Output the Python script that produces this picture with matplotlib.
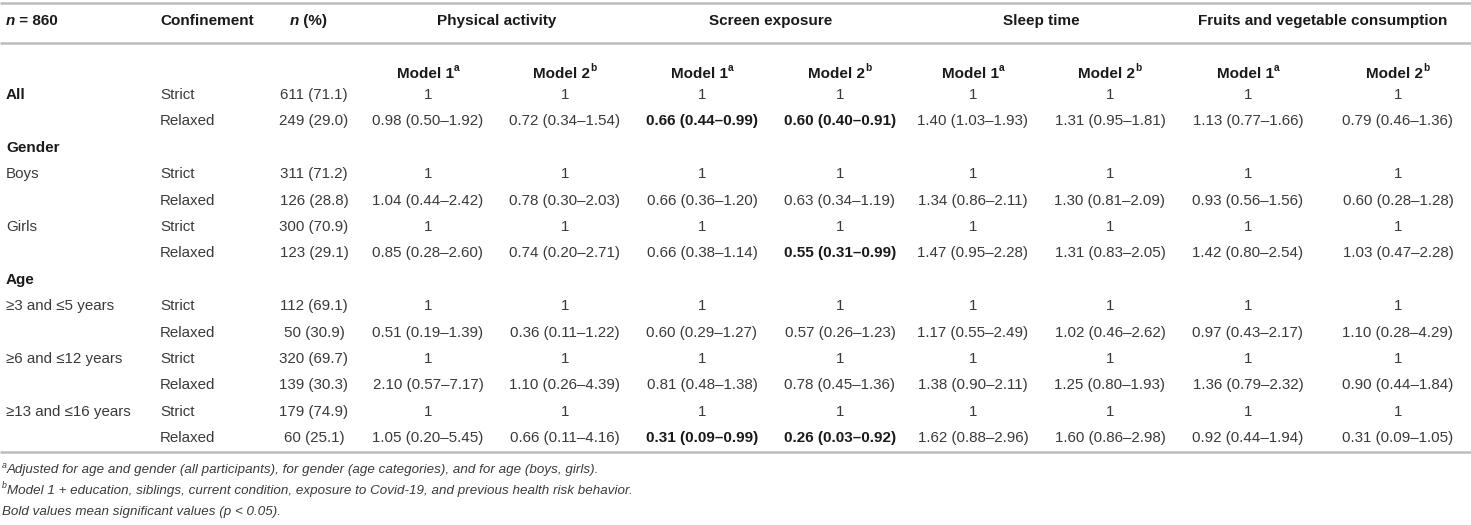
import matplotlib
matplotlib.use("Agg")
import matplotlib.pyplot as plt

plt.rcParams['font.family'] = ['Liberation Sans', 'DejaVu Sans']

# ---------------- data ----------------
outcomes = ["Physical activity", "Screen exposure", "Sleep time",
            "Fruits and vegetable consumption"]
models = [("Model 1", "a"), ("Model 2", "b")]

# each subgroup: (section header or None, subgroup label, strict n, relaxed n, relaxed ORs)
subgroups = [
    ("All", "", "611 (71.1)", "249 (29.0)",
     ["0.98 (0.50–1.92)", "0.72 (0.34–1.54)", "**0.66 (0.44–0.99)", "**0.60 (0.40–0.91)",
      "1.40 (1.03–1.93)", "1.31 (0.95–1.81)", "1.13 (0.77–1.66)", "0.79 (0.46–1.36)"]),
    ("Gender", "Boys", "311 (71.2)", "126 (28.8)",
     ["1.04 (0.44–2.42)", "0.78 (0.30–2.03)", "0.66 (0.36–1.20)", "0.63 (0.34–1.19)",
      "1.34 (0.86–2.11)", "1.30 (0.81–2.09)", "0.93 (0.56–1.56)", "0.60 (0.28–1.28)"]),
    (None, "Girls", "300 (70.9)", "123 (29.1)",
     ["0.85 (0.28–2.60)", "0.74 (0.20–2.71)", "0.66 (0.38–1.14)", "**0.55 (0.31–0.99)",
      "1.47 (0.95–2.28)", "1.31 (0.83–2.05)", "1.42 (0.80–2.54)", "1.03 (0.47–2.28)"]),
    ("Age", "≥3 and ≤5 years", "112 (69.1)", "50 (30.9)",
     ["0.51 (0.19–1.39)", "0.36 (0.11–1.22)", "0.60 (0.29–1.27)", "0.57 (0.26–1.23)",
      "1.17 (0.55–2.49)", "1.02 (0.46–2.62)", "0.97 (0.43–2.17)", "1.10 (0.28–4.29)"]),
    (None, "≥6 and ≤12 years", "320 (69.7)", "139 (30.3)",
     ["2.10 (0.57–7.17)", "1.10 (0.26–4.39)", "0.81 (0.48–1.38)", "0.78 (0.45–1.36)",
      "1.38 (0.90–2.11)", "1.25 (0.80–1.93)", "1.36 (0.79–2.32)", "0.90 (0.44–1.84)"]),
    (None, "≥13 and ≤16 years", "179 (74.9)", "60 (25.1)",
     ["1.05 (0.20–5.45)", "0.66 (0.11–4.16)", "**0.31 (0.09–0.99)", "**0.26 (0.03–0.92)",
      "1.62 (0.88–2.96)", "1.60 (0.86–2.98)", "0.92 (0.44–1.94)", "0.31 (0.09–1.05)"]),
]
strict_or = "1"
confinement = ["Strict", "Relaxed"]

footnotes = [
    [("a", "sup"), ("Adjusted for age and gender (all participants), for gender (age categories), and for age (boys, girls).", "it")],
    [("b", "sup"), ("Model 1 + education, siblings, current condition, exposure to Covid-19, and previous health risk behavior.", "it")],
    [("Bold values mean significant values (p < 0.05).", "it")],
]

# ---------------- layout ----------------
W, H = 1471, 525
fig = plt.figure(figsize=(W / 100, H / 100), dpi=100)
ax = fig.add_axes([0, 0, 1, 1])
ax.set_xlim(0, W)
ax.set_ylim(H, 0)
ax.axis("off")

FS = 10.9     # table body
FSB = 11.0    # bold table text
FSF = 9.6     # footnotes
BODY = "#3a3a3a"
DARK = "#1a1a1a"
RULE = "#bdbdbd"

x_label = 6
x_conf = 160
x_n = 314
x_cols = [428, 565, 702, 840, 973, 1110, 1248, 1398]

renderer = fig.canvas.get_renderer()


def width_of(t):
    return t.get_window_extent(renderer=renderer).width


def runs(x, y, parts, ha="left", color=DARK, size=FS):
    """parts: list of (text, style) ; style in 'b','bi','it','sup','supb'"""
    objs = []
    for txt, st in parts:
        kw = dict(fontsize=size, color=color, va="center", ha="left")
        dy = 0
        if st in ("b", "bi"):
            kw["fontweight"] = "bold"
        if st in ("bi", "it"):
            kw["fontstyle"] = "italic"
        if st.startswith("sup"):
            kw["fontsize"] = size * 0.66
            dy = -5 * size / 9.6
            if st == "supb":
                kw["fontweight"] = "bold"
            else:
                kw["fontstyle"] = "italic"
        t = ax.text(0, y + dy, txt, **kw)
        objs.append(t)
    ws = [width_of(t) for t in objs]
    total = sum(ws)
    cx = x - total / 2 if ha == "center" else x
    for t, w in zip(objs, ws):
        t.set_x(cx)
        cx += w


def bold(x, y, s, ha="left"):
    ax.text(x, y, s, fontsize=FSB, fontweight="bold", color=DARK, va="center", ha=ha)


def body(x, y, s, ha="left"):
    ax.text(x, y, s, fontsize=FS, color=BODY, va="center", ha=ha)


# rules
for yy in (3, 43, 452):
    ax.plot([0, W], [yy, yy], color=RULE, lw=1.8, solid_capstyle="butt")

# header row
y_h = 21
runs(x_label, y_h, [("n", "bi"), (" = 860", "b")], size=FSB)
bold(x_conf, y_h, "Confinement")
runs(x_n - 6, y_h, [("n", "bi"), (" (%)", "b")], ha="center", size=FSB)
for i, name in enumerate(outcomes):
    cx = (x_cols[2 * i] + x_cols[2 * i + 1]) / 2
    bold(cx, y_h, name, ha="center")

# model row
y_m = 74
for j, xc in enumerate(x_cols):
    name, sup = models[j % 2]
    runs(xc, y_m, [(name, "b"), (sup, "supb")], ha="center", size=FSB)

# body
row_h = 26.4
y = 95
for sec, label, n_s, n_r, ors in subgroups:
    if sec is not None and sec != "All":
        bold(x_label, y, sec)
        y += row_h
    if sec == "All":
        bold(x_label, y, "All")
    elif label:
        body(x_label, y, label)
    # strict row
    body(x_conf, y, confinement[0])
    body(x_n, y, n_s, ha="center")
    for xc in x_cols:
        body(xc, y, strict_or, ha="center")
    y += row_h
    # relaxed row
    body(x_conf, y, confinement[1])
    body(x_n, y, n_r, ha="center")
    for xc, v in zip(x_cols, ors):
        if v.startswith("**"):
            bold(xc, y, v.lstrip("*"), ha="center")
        else:
            body(xc, y, v, ha="center")
    y += row_h

# footnotes
for k, parts in enumerate(footnotes):
    runs(2, 470 + 21 * k, parts, color=BODY, size=FSF)

fig.savefig("out.png", dpi=100)
